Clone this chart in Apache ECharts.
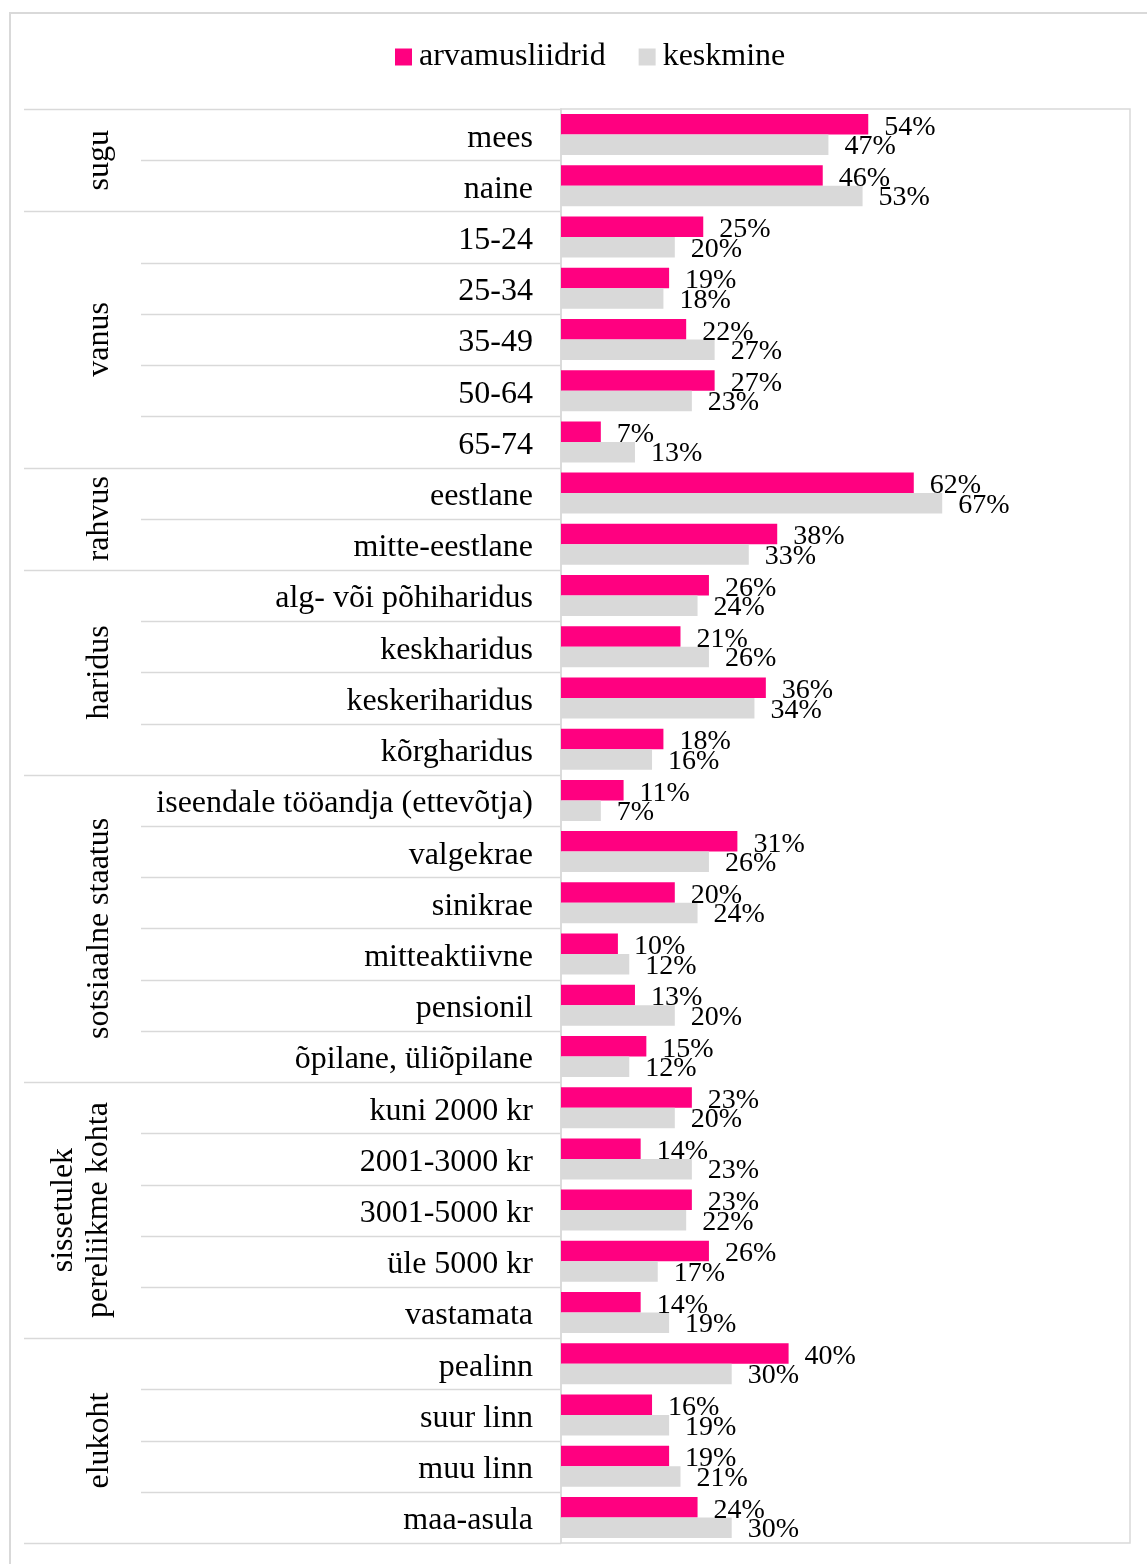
<!DOCTYPE html>
<html>
<head>
<meta charset="utf-8">
<script src="https://cdn.jsdelivr.net/npm/echarts@6/dist/echarts.min.js"></script>
<style>
  html, body { margin: 0; padding: 0; background: #fff; }
  #chart { width: 1147px; height: 1564px; }
</style>
</head>
<body>
<div id="chart"></div>
<script>
// Respondent profile: opinion leaders vs. population average
const categories = [
  'mees', 'naine',
  '15-24', '25-34', '35-49', '50-64', '65-74',
  'eestlane', 'mitte-eestlane',
  'alg- või põhiharidus', 'keskharidus', 'keskeriharidus', 'kõrgharidus',
  'iseendale tööandja (ettevõtja)', 'valgekrae', 'sinikrae', 'mitteaktiivne', 'pensionil', 'õpilane, üliõpilane',
  'kuni 2000 kr', '2001-3000 kr', '3001-5000 kr', 'üle 5000 kr', 'vastamata',
  'pealinn', 'suur linn', 'muu linn', 'maa-asula'
];
const groupNames = ['sugu', 'vanus', 'rahvus', 'haridus', 'sotsiaalne staatus', 'sissetulek\npereliikme kohta', 'elukoht'];
const groupSizes = [2, 5, 2, 4, 6, 5, 4];

const leaders = [54, 46, 25, 19, 22, 27, 7, 62, 38, 26, 21, 36, 18, 11, 31, 20, 10, 13, 15, 23, 14, 23, 26, 14, 40, 16, 19, 24];
const average = [47, 53, 20, 18, 27, 23, 13, 67, 33, 24, 26, 34, 16, 7, 26, 24, 12, 20, 12, 20, 23, 22, 17, 19, 30, 19, 21, 30];

const seriesNames = ['arvamusliidrid', 'keskmine'];
const PINK = '#FF0080';
const GREY = '#D9D9D9';
const LINE = '#D9D9D9';
const FONT = '"Liberation Serif", "Times New Roman", serif';

const chart = echarts.init(document.getElementById('chart'), null, { renderer: 'canvas' });

const valueLabel = {
  show: true,
  position: 'right',
  distance: 15,
  formatter: p => p.value + '%',
  fontFamily: FONT,
  fontSize: 28,
  color: '#000'
};

chart.setOption({
  animation: false,
  backgroundColor: '#fff',
  textStyle: { fontFamily: FONT },
  legend: {
    data: seriesNames,
    left: 395,
    top: 41,
    padding: 0,
    itemWidth: 17,
    itemHeight: 17,
    itemGap: 33,
    icon: 'rect',
    textStyle: { fontFamily: FONT, fontSize: 32, color: '#000', padding: [2, 0, 0, 2] }
  },
  grid: {
    left: 561,
    right: 17,
    top: 109,
    bottom: 21,
    show: true,
    borderColor: LINE,
    borderWidth: 1.5,
    containLabel: false
  },
  xAxis: {
    type: 'value',
    min: 0,
    max: 100,
    show: false,
    splitLine: { show: false }
  },
  yAxis: {
    type: 'category',
    data: categories,
    inverse: true,
    axisLine: { show: true, lineStyle: { color: LINE, width: 1.5 } },
    axisTick: { show: false },
    axisLabel: {
      interval: 0,
      margin: 28,
      formatter: v => '{c|' + v + '}',
      rich: {
        c: {
          fontFamily: FONT,
          fontSize: 32,
          color: '#000',
          padding: [7, 0, 0, 0]
        }
      }
    }
  },
  series: [
    {
      name: seriesNames[0],
      type: 'bar',
      data: leaders,
      barGap: '0%',
      barCategoryGap: '20%',
      itemStyle: { color: PINK },
      label: Object.assign({}, valueLabel, { offset: [1, 3] })
    },
    {
      name: seriesNames[1],
      type: 'bar',
      data: average,
      itemStyle: { color: GREY },
      label: Object.assign({}, valueLabel, { offset: [1, 2] })
    }
  ]
});

// Row and group separators plus rotated group titles on the left
function drawFrame() {
  const yFirst = chart.convertToPixel({ yAxisIndex: 0 }, 0);
  const ySecond = chart.convertToPixel({ yAxisIndex: 0 }, 1);
  const band = ySecond - yFirst;
  const top = yFirst - band / 2;
  const axisX = chart.convertToPixel({ xAxisIndex: 0 }, 0);

  const boundaries = new Set([0]);
  let acc = 0;
  groupSizes.forEach(n => { acc += n; boundaries.add(acc); });

  const elements = [];
  // outer frame
  elements.push({
    type: 'rect',
    shape: { x: 10, y: 13, width: 1160, height: 1580 },
    style: { fill: null, stroke: LINE, lineWidth: 2 },
    silent: true
  });

  for (let i = 0; i <= categories.length; i++) {
    const y = Math.round(top + i * band) + 0.5;
    const isGroup = boundaries.has(i);
    elements.push({
      type: 'line',
      shape: { x1: isGroup ? 24 : 141, y1: y, x2: axisX, y2: y },
      style: { stroke: LINE, lineWidth: 1.5 },
      silent: true
    });
  }

  let start = 0;
  groupNames.forEach((name, g) => {
    const n = groupSizes[g];
    const cy = top + (start + n / 2) * band;
    const lines = name.split('\n').length;
    elements.push({
      type: 'text',
      x: 100 - (lines - 1) * 19,
      y: cy,
      rotation: Math.PI / 2,
      style: {
        text: name,
        fontFamily: FONT,
        fontSize: 32,
        lineHeight: 35,
        fill: '#000',
        align: 'center',
        verticalAlign: 'middle'
      },
      silent: true
    });
    start += n;
  });

  chart.setOption({ graphic: { elements: elements } });
}
drawFrame();
</script>
</body>
</html>
